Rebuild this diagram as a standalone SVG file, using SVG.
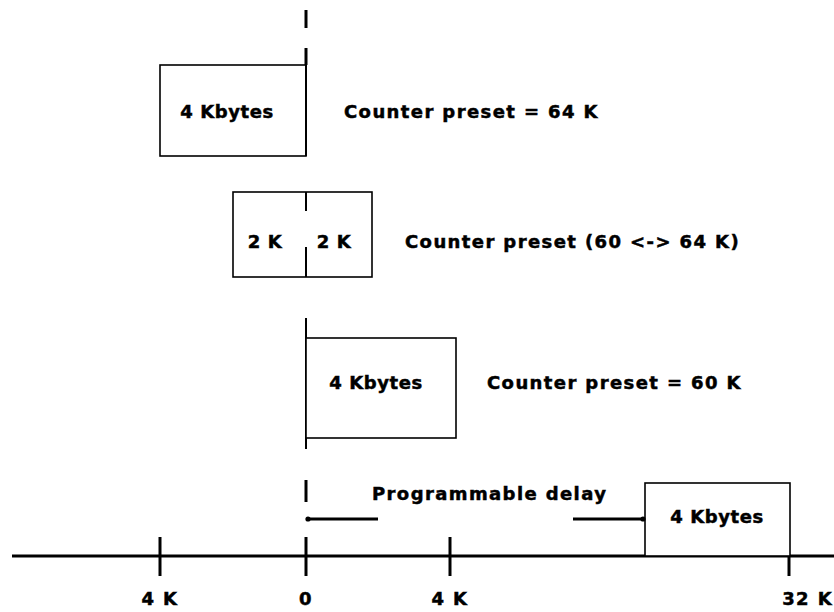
<svg xmlns="http://www.w3.org/2000/svg" width="834" height="612" viewBox="0 0 834 612">
<style>
.ln{stroke:#000;stroke-width:2;fill:none}
.bx{stroke:#000;stroke-width:1.6;fill:#fff}
.ax{stroke:#000;stroke-width:3;fill:none}
text{font-family:"DejaVu Sans","Liberation Sans",Arial,sans-serif;font-weight:bold;font-size:18px;fill:#000;stroke:#000;stroke-width:0.5;letter-spacing:1.4px}
.in{letter-spacing:0.6px}
</style>
<defs>
<marker id="dot" viewBox="0 0 6 6" refX="3" refY="3" markerWidth="6" markerHeight="6" markerUnits="userSpaceOnUse">
<circle cx="3" cy="3" r="2.6" fill="#000"/>
</marker>
</defs>
<g id="zero-line">
<line class="ax" x1="306" y1="10" x2="306" y2="28"/>
<line class="ax" x1="306" y1="48" x2="306" y2="65"/>
</g>
<g id="box1">
<rect class="bx" x="160" y="65" width="146" height="91"/>
<line class="ln" x1="306" y1="65" x2="306" y2="156"/>
<text class="in" x="227" y="118" text-anchor="middle">4 Kbytes</text>
</g>
<text id="label1" x="344" y="118">Counter preset = 64 K</text>
<g id="box2">
<rect class="bx" x="233" y="192" width="139" height="85"/>
<line class="ln" x1="306" y1="192" x2="306" y2="211"/>
<line class="ln" x1="306" y1="247" x2="306" y2="277"/>
<text class="in" x="265" y="248" text-anchor="middle">2 K</text>
<text class="in" x="334" y="248" text-anchor="middle">2 K</text>
</g>
<text id="label2" x="405" y="248">Counter preset (60 &lt;-&gt; 64 K)</text>
<g id="box3">
<line class="ln" x1="306" y1="318" x2="306" y2="449"/>
<rect class="bx" x="306" y="338" width="150" height="100"/>
<text class="in" x="376" y="389" text-anchor="middle">4 Kbytes</text>
</g>
<text id="label3" x="487" y="389">Counter preset = 60 K</text>
<g id="axis">
<line class="ax" x1="306" y1="480" x2="306" y2="502"/>
<line class="ax" x1="12" y1="556" x2="834" y2="556"/>
<line class="ax" x1="160" y1="537" x2="160" y2="576"/>
<line class="ax" x1="306" y1="537" x2="306" y2="576"/>
<line class="ax" x1="450" y1="537" x2="450" y2="576"/>
<line class="ax" x1="789" y1="556" x2="789" y2="576"/>
<text x="160" y="605" text-anchor="middle">4 K</text>
<text x="306" y="605" text-anchor="middle">0</text>
<text x="450" y="605" text-anchor="middle">4 K</text>
<text x="833" y="605" text-anchor="end">32 K</text>
</g>
<g id="box4">
<rect class="bx" x="645" y="483" width="145" height="73"/>
<text class="in" x="717" y="523" text-anchor="middle">4 Kbytes</text>
</g>
<g id="connectors">
<line class="ax" x1="378" y1="519" x2="308" y2="519" marker-end="url(#dot)"/>
<line class="ax" x1="573" y1="519" x2="643" y2="519" marker-end="url(#dot)"/>
</g>
<text id="delay-label" x="372" y="500">Programmable delay</text>
</svg>
